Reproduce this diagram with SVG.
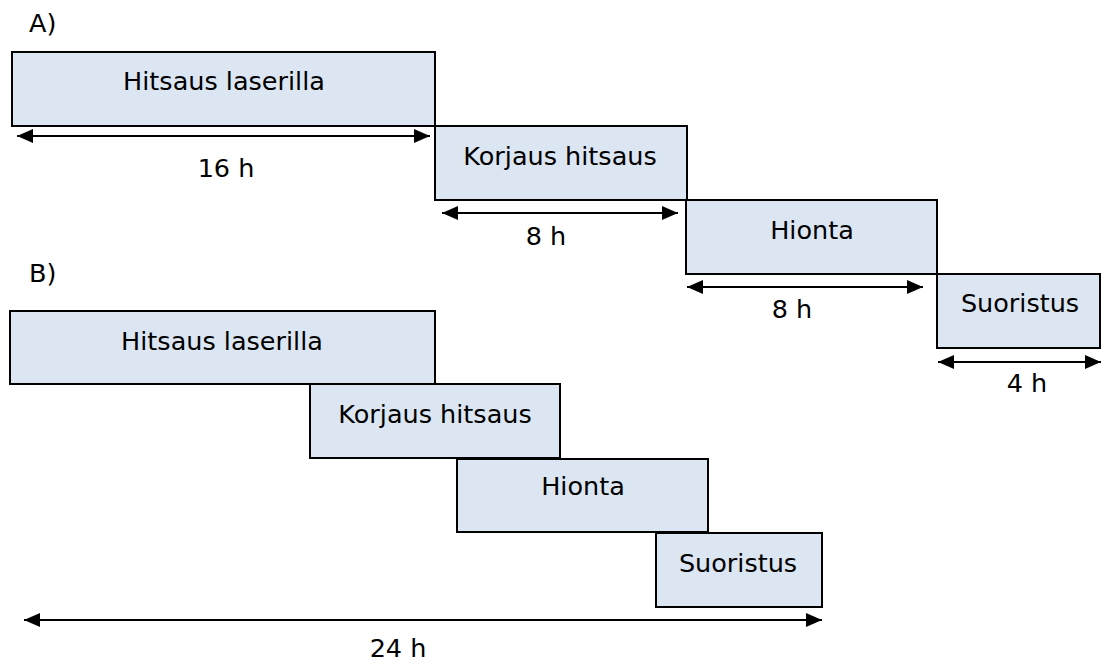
<svg xmlns="http://www.w3.org/2000/svg" width="1101" height="662" viewBox="0 0 1101 662">
  <style>
    .box { fill: #dce6f2; stroke: #000; stroke-width: 2; }
    .lbl { font-family: "DejaVu Sans", Verdana, sans-serif; font-size: 25.5px; fill: #000; text-anchor: middle; }
    .head { font-family: "DejaVu Sans", Verdana, sans-serif; font-size: 25.5px; fill: #000; }
    .dim { stroke: #000; stroke-width: 2; fill: none; marker-start: url(#tip); marker-end: url(#tip); }
  </style>
  <defs>
    <marker id="tip" markerUnits="userSpaceOnUse" markerWidth="16" markerHeight="14" refX="16" refY="7" orient="auto-start-reverse" viewBox="0 0 16 14">
      <path d="M0,0 L16,7 L0,14 z" fill="#000"/>
    </marker>
  </defs>
  <rect width="1101" height="662" fill="#fff"/>

  <!-- Sequential schedule -->
  <text class="head" x="29" y="32">A)</text>
  <g id="a-hitsaus">
    <rect class="box" x="12" y="52" width="423" height="74"/>
    <text class="lbl" x="224" y="90">Hitsaus laserilla</text>
  </g>
  <g id="a-korjaus">
    <rect class="box" x="435" y="126" width="252" height="74"/>
    <text class="lbl" x="560" y="165">Korjaus hitsaus</text>
  </g>
  <g id="a-hionta">
    <rect class="box" x="686" y="200" width="251" height="74"/>
    <text class="lbl" x="812" y="239">Hionta</text>
  </g>
  <g id="a-suoristus">
    <rect class="box" x="937" y="274" width="163" height="74"/>
    <text class="lbl" x="1020" y="312">Suoristus</text>
  </g>

  <!-- Overlapping schedule -->
  <text class="head" x="29" y="282">B)</text>
  <g id="b-hitsaus">
    <rect class="box" x="10" y="311" width="425" height="73"/>
    <text class="lbl" x="222" y="350">Hitsaus laserilla</text>
  </g>
  <g id="b-korjaus">
    <rect class="box" x="310" y="384" width="250" height="74"/>
    <text class="lbl" x="435" y="423">Korjaus hitsaus</text>
  </g>
  <g id="b-hionta">
    <rect class="box" x="457" y="459" width="251" height="73"/>
    <text class="lbl" x="583" y="495">Hionta</text>
  </g>
  <g id="b-suoristus">
    <rect class="box" x="656" y="533" width="166" height="74"/>
    <text class="lbl" x="738" y="572">Suoristus</text>
  </g>

  <!-- Duration arrows -->
  <g id="connectors">
    <line class="dim" x1="17" y1="136" x2="430" y2="136"/>
    <line class="dim" x1="442" y1="213" x2="678" y2="213"/>
    <line class="dim" x1="687" y1="287" x2="923" y2="287"/>
    <line class="dim" x1="938" y1="362" x2="1101" y2="362"/>
    <line class="dim" x1="24" y1="620" x2="822" y2="620"/>
  </g>
  <g id="durations">
    <text class="lbl" x="226" y="177">16 h</text>
    <text class="lbl" x="546" y="245">8 h</text>
    <text class="lbl" x="792" y="318">8 h</text>
    <text class="lbl" x="1027" y="392">4 h</text>
    <text class="lbl" x="398" y="657">24 h</text>
  </g>
</svg>
